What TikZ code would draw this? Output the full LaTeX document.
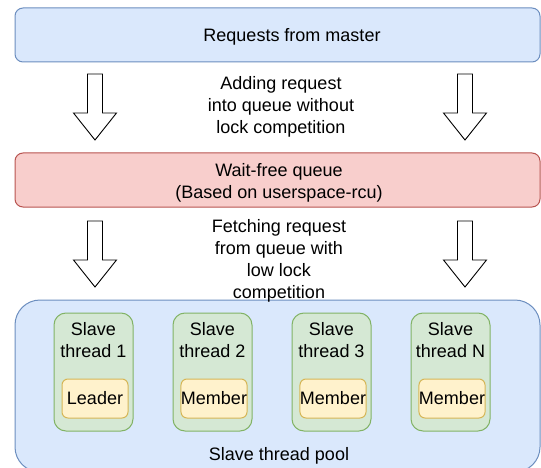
\documentclass[tikz,border=0pt]{standalone}
\usepackage{fontspec}
\setmainfont{Liberation Sans}
\usetikzlibrary{calc,positioning}
\definecolor{poolfill}{HTML}{DAE8FC}
\definecolor{pooldraw}{HTML}{6C8EBF}
\definecolor{queuefill}{HTML}{F8CECC}
\definecolor{queuedraw}{HTML}{B85450}
\definecolor{threadfill}{HTML}{D5E8D4}
\definecolor{threaddraw}{HTML}{82B366}
\definecolor{rolefill}{HTML}{FFF2CC}
\definecolor{roledraw}{HTML}{D6B656}
% hollow block arrow from #1 (top) down to #2 (tip)
\newcommand{\blockarrow}[2]{%
  \draw[hollow] ($(#1)+(-7.5,0)$) -- ($(#2)+(-7.5,-27)$) -- ($(#2)+(-21.5,-27)$)
    -- (#2) -- ($(#2)+(21.5,-27)$) -- ($(#2)+(7.5,-27)$) -- ($(#1)+(7.5,0)$) -- cycle;}

\begin{document}
\begin{tikzpicture}[x=1pt, y=-1pt,
      every node/.style={font=\fontsize{18}{22}\selectfont, inner sep=0pt, align=center},
      band/.style={rectangle, line width=1pt, rounded corners=8pt,
                   minimum width=525pt, minimum height=54pt},
      thread/.style={rectangle, draw=threaddraw, fill=threadfill, line width=1pt,
                     rounded corners=12pt, minimum width=79pt, minimum height=118pt},
      role/.style={rectangle, draw=roledraw, fill=rolefill, line width=1pt,
                   rounded corners=6pt, minimum width=66pt, minimum height=39pt},
      hollow/.style={draw=black, fill=white, line width=0.9pt, line join=miter}
    ]
      \useasboundingbox (0,0) rectangle (541,468);
      \clip (0,0) rectangle (541,468);
      %% layers
      \node[band, draw=pooldraw, fill=poolfill] (master) at (277.5,35) {};
      \node (masterlbl) at (292,37) {Requests from master};
      \node[band, draw=queuedraw, fill=queuefill] (queue) at (277.5,180) {};
      \node (queuelbl) at (279,183) {Wait-free queue\\(Based on userspace-rcu)};
      \node[rectangle, draw=pooldraw, fill=poolfill, line width=1pt, rounded corners=25pt,
            minimum width=525pt, minimum height=172pt] (pool) at (277.5,386) {};
      \node (poollbl) at (279,456) {Slave thread pool};
      %% slave threads
      \foreach \k/\idx/\part in {0/1/Leader, 1/2/Member, 2/3/Member, 3/N/Member}{
        \node[thread] (t\idx) at (93.5+119*\k,372) {};
        \node[anchor=north] (tl\idx) at ($(t\idx.north)+(0,10)$) {Slave\\thread \idx};
        \node[role] (r\idx) at (95+119*\k,398.5) {\part};
      }
      %% flow annotations
      \node (addtxt) at (281,107) {Adding request\\into queue without\\lock competition};
      \node (fetchtxt) at (279,261) {Fetching request\\from queue with\\low lock\\competition};
      \coordinate (la1) at (95,74);   \coordinate (la2) at (95,140);
      \coordinate (ra1) at (465,74);  \coordinate (ra2) at (465,140);
      \coordinate (lb1) at (95,221);  \coordinate (lb2) at (95,287);
      \coordinate (rb1) at (465,221); \coordinate (rb2) at (465,287);
      \blockarrow{la1}{la2}
      \blockarrow{ra1}{ra2}
      \blockarrow{lb1}{lb2}
      \blockarrow{rb1}{rb2}
    \end{tikzpicture}
\end{document}
